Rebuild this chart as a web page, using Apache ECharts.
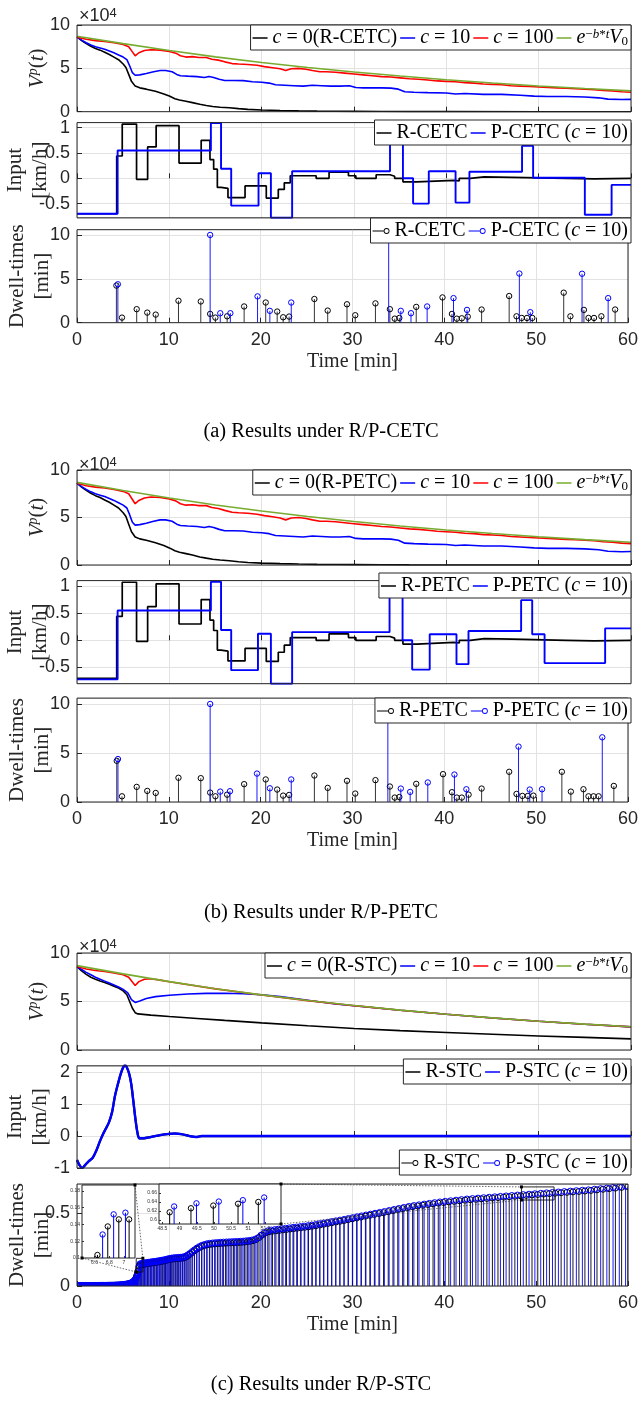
<!DOCTYPE html>
<html><head><meta charset="utf-8">
<script src="https://cdn.jsdelivr.net/npm/echarts@6.0.0/dist/echarts.min.js"></script>
<style>html,body{margin:0;padding:0;background:#fff;}#chart{width:641px;height:1410px;}</style>
</head><body><div id="chart"></div>
<script>
// ================= DATA =================
const T_TICKS = [0, 10, 20, 30, 40, 50, 60];
const CAPTIONS = ['(a) Results under R/P-CETC', '(b) Results under R/P-PETC', '(c) Results under R/P-STC'];

// V^p(t), units of 1e4 — (a) CETC and (b) PETC look identical
const V_ETC_R = [[0,8.65],[0.5,8.2],[1,7.85],[1.5,7.55],[2,7.3],[2.5,7.1],[3,6.85],[3.5,6.6],[4,6.3],[4.5,6.0],[5,5.5],[5.3,5.1],[5.6,4.3],[5.9,3.5],[6.3,2.95],[6.8,2.75],[7.5,2.6],[8.5,2.35],[9.4,2.05],[10,1.8],[10.6,1.5],[11.1,1.35],[11.8,1.2],[12.5,1.05],[13.3,0.85],[14,0.72],[14.7,0.6],[15.5,0.52],[16.5,0.45],[17.5,0.35],[18.5,0.27],[20,0.2],[22,0.14],[24,0.1],[26,0.07],[28,0.05],[30,0.04],[33,0.02],[36,0.01],[40,0.005],[50,0],[60,0]];
const V_ETC_C10 = [[0,8.6],[0.5,8.25],[1,7.95],[1.5,7.7],[2,7.5],[2.5,7.35],[3,7.2],[3.5,7.0],[4,6.8],[4.5,6.55],[5,6.3],[5.4,6.0],[5.7,5.3],[6.0,4.5],[6.3,4.2],[6.8,4.25],[7.5,4.4],[8.3,4.6],[9,4.75],[9.6,4.75],[10.3,4.6],[10.8,4.3],[11.2,4.15],[12,4.1],[13,4.05],[13.8,3.95],[14.3,4.05],[14.8,3.95],[15.4,3.75],[16,3.6],[17,3.6],[18,3.58],[19,3.45],[20,3.4],[20.8,3.3],[21.5,3.1],[22.5,3.05],[23.5,3.0],[24.5,2.95],[25.5,3.05],[26.5,3.0],[27.5,2.95],[28.5,2.95],[29.5,3.0],[30.2,2.8],[31,2.75],[32,2.75],[33,2.75],[34,2.72],[34.8,2.6],[35.5,2.3],[36.5,2.25],[38,2.2],[40,2.15],[41,2.05],[42,2.1],[44,2.0],[46,2.0],[48,1.9],[49.5,1.8],[51,1.75],[53,1.75],[55,1.7],[56.5,1.6],[57.5,1.45],[59,1.4],[60,1.42]];
const V_ETC_C100 = [[0,8.6],[1,8.35],[2,8.2],[3,8.1],[4,7.95],[5,7.75],[5.6,7.5],[6,6.9],[6.3,6.45],[6.7,6.8],[7.3,7.05],[8,7.15],[9,7.1],[10,6.95],[10.7,6.75],[11.2,6.45],[11.8,6.3],[12.5,6.35],[13.2,6.25],[14,6.25],[14.6,6.05],[15.3,5.95],[16,5.75],[16.8,5.55],[17.5,5.5],[18.5,5.45],[19.5,5.35],[20.3,5.2],[21,5.1],[22,4.95],[22.6,4.75],[23.2,4.95],[24,5.0],[24.8,4.9],[25.5,4.75],[26.3,4.6],[27,4.6],[28,4.55],[29,4.45],[30,4.35],[31,4.25],[32,4.15],[33,4.05],[34,4.0],[35,3.9],[36,3.8],[37,3.75],[38,3.65],[39,3.55],[40,3.5],[41,3.45],[42,3.35],[43,3.3],[44,3.2],[45,3.15],[46,3.1],[47,3.0],[48,2.95],[49,2.9],[50,2.85],[51,2.8],[52,2.75],[53,2.7],[54,2.65],[55,2.6],[56,2.55],[57,2.45],[58,2.4],[59,2.3],[60,2.25]];
const V_BOUND = [[0,8.7],[5,7.85],[10,7.05],[15,6.32],[20,5.68],[25,5.1],[30,4.58],[35,4.11],[40,3.69],[45,3.31],[50,2.97],[55,2.67],[60,2.4]];
// (c) STC
const V_STC_R = [[0,8.6],[0.5,8.15],[1,7.8],[1.5,7.5],[2,7.3],[2.5,7.12],[3,6.95],[3.5,6.78],[4,6.58],[4.5,6.38],[5,6.1],[5.4,5.7],[5.7,5.0],[6.0,4.3],[6.3,3.85],[6.6,3.72],[8,3.6],[10,3.45],[13,3.25],[16,3.05],[20,2.8],[25,2.5],[30,2.22],[35,2.0],[40,1.8],[45,1.62],[50,1.45],[55,1.3],[60,1.15]];
const V_STC_C10 = [[0,8.6],[0.5,8.3],[1,8.0],[1.5,7.75],[2,7.5],[2.5,7.3],[3,7.1],[3.5,6.9],[4,6.7],[4.5,6.5],[5,6.25],[5.5,5.9],[5.9,5.2],[6.3,4.9],[6.8,5.05],[7.5,5.3],[8.5,5.5],[10,5.65],[12,5.78],[14,5.84],[16,5.85],[18,5.8],[20,5.7],[22,5.5],[24,5.25],[26,5.0],[28,4.75],[30,4.56],[35,4.1],[40,3.68],[45,3.3],[50,2.96],[55,2.66],[60,2.38]];
const V_STC_C100 = [[0,8.6],[1,8.35],[2,8.2],[3,8.1],[4,7.95],[5,7.75],[5.6,7.5],[6,7.0],[6.3,6.65],[6.7,7.05],[7.3,7.3],[8,7.35],[9,7.2],[10,7.03],[15,6.3],[20,5.67],[25,5.09],[30,4.57],[35,4.1],[40,3.68],[45,3.3],[50,2.96],[55,2.66],[60,2.38]];

// Inputs [km/h], zero-order hold [t, value]
const IN_ETC_R = [[0,-0.70],[4.3,0.44],[4.9,1.07],[6.45,-0.02],[7.65,0.62],[8.57,1.04],[11.05,0.30],[13.45,0.75],[14.4,0.37],[14.8,0.18],[15.2,-0.18],[15.6,-0.2],[16.35,-0.38],[18.2,-0.15],[20.5,-0.39],[21.8,-0.22],[22.45,-0.09],[23.1,0.05],[25.9,0.0],[27.3,0.12],[29.4,0.05],[30.2,0.0],[32.4,0.07],[33.9,0.04],[34.4,0.0],[35.3,-0.07],[36.8,-0.04],[40.8,-0.05],[41.4,0.0],[42.6,0.03],[44.1,0.02],[47.1,0.0],[53.0,-0.01],[56.0,0.0],[60,0.0]];
const IN_CETC_P = [[0,-0.70],[4.4,0.55],[14.5,1.09],[15.6,0.19],[16.7,-0.54],[19.66,0.1],[21.0,-0.78],[23.3,0.14],[33.9,0.82],[35.3,0.0],[36.4,-0.5],[38.1,0.14],[41.0,-0.48],[42.5,0.13],[48.2,0.64],[49.4,0.01],[55.0,-0.72],[57.9,-0.13],[60,-0.13]];
const IN_PETC_P = [[0,-0.72],[4.4,0.55],[14.5,1.08],[15.6,0.19],[16.7,-0.55],[19.6,0.12],[21.0,-0.80],[23.3,0.15],[33.85,0.82],[35.26,0.0],[36.3,-0.54],[38.2,0.11],[41.1,-0.44],[42.4,0.17],[48.1,0.74],[49.3,0.11],[50.64,-0.42],[57.2,0.22],[60,0.22]];
const IN_STC = [[0,-0.75],[0.25,-0.9],[0.55,-1.0],[0.9,-0.9],[1.3,-0.78],[1.7,-0.68],[2.1,-0.45],[2.5,-0.15],[2.8,0.05],[3.1,0.22],[3.45,0.42],[3.8,0.75],[4.1,1.24],[4.45,1.65],[4.77,1.98],[5.0,2.15],[5.2,2.22],[5.4,2.15],[5.65,1.95],[5.88,1.62],[6.1,1.1],[6.32,0.55],[6.55,0.1],[6.76,-0.07],[7.2,-0.07],[8,-0.03],[9,0.03],[10,0.07],[10.6,0.08],[11.3,0.06],[12.2,0.0],[12.9,-0.03],[13.5,0.0],[15,0.0],[60,0.0]];

// Dwell-times [min] at event times [t, dwell]
const DW_CETC_R = [[4.29,4.23],[4.9,0.58],[6.5,1.54],[7.65,1.15],[8.57,0.92],[11.05,2.5],[13.48,2.42],[14.5,1.0],[15.07,0.58],[16.35,0.73],[18.2,1.85],[20.55,2.3],[21.8,1.27],[22.45,0.62],[23.1,0.7],[25.85,2.7],[27.3,1.38],[29.4,2.1],[30.3,0.85],[32.5,2.2],[34.07,1.54],[34.6,0.46],[35.1,0.54],[36.94,1.8],[39.8,2.88],[40.83,1.0],[41.36,0.46],[41.9,0.5],[42.55,0.69],[44.06,1.5],[47.06,3.04],[47.86,0.73],[48.43,0.54],[49.0,0.54],[49.58,0.54],[53.0,3.42],[53.73,0.73],[55.2,1.46],[55.7,0.54],[56.3,0.54],[57.1,0.73],[58.6,1.5]];
const DW_CETC_P = [[4.45,4.38],[14.5,10.0],[15.6,1.08],[16.7,1.08],[19.66,3.0],[21.0,1.35],[23.33,2.3],[33.94,10.5],[35.26,1.35],[36.37,1.08],[38.13,1.85],[41.0,2.8],[42.47,1.46],[48.17,5.6],[49.36,1.2],[55.0,5.58],[57.84,2.8]];
const DW_PETC_R = [[4.33,4.2],[4.9,0.58],[6.5,1.54],[7.65,1.13],[8.57,0.92],[11.05,2.47],[13.48,2.43],[14.5,0.96],[15.07,0.58],[16.35,0.75],[18.2,1.82],[20.55,2.3],[21.8,1.27],[22.45,0.65],[23.1,0.72],[25.85,2.7],[27.3,1.44],[29.4,2.16],[30.3,0.86],[32.5,2.23],[34.07,1.58],[34.6,0.45],[35.1,0.51],[36.94,1.85],[39.86,2.84],[40.83,1.0],[41.36,0.45],[41.9,0.45],[42.64,0.75],[44.06,1.37],[47.06,3.08],[47.86,0.82],[48.5,0.62],[49.1,0.62],[49.7,0.65],[52.8,3.08],[53.78,1.06],[55.15,1.3],[55.7,0.58],[56.25,0.58],[56.8,0.58],[58.46,1.64]];
const DW_PETC_P = [[4.46,4.38],[14.5,10.0],[15.6,1.06],[16.66,1.1],[19.6,2.9],[21.0,1.4],[23.33,2.3],[33.85,10.5],[35.26,1.37],[36.28,1.03],[38.2,1.99],[41.1,2.8],[42.4,1.3],[48.08,5.65],[49.3,1.27],[50.64,1.3],[57.2,6.6]];

// (c) STC dwell-times: early dense events [t, dwell], then successive dwell lengths
const DW_STC_P_EARLY = [[0.02,.003],[0.14,.003],[0.26,.003],[0.38,.003],[0.5,.003],[0.62,.003],[0.74,.003],[0.86,.003],[0.98,.003],[1.1,.003],[1.22,.003],[1.34,.003],[1.46,.003],[1.58,.003],[1.7,.003],[1.82,.003],[1.94,.004],[2.06,.004],[2.18,.004],[2.3,.004],[2.42,.004],[2.54,.004],[2.66,.004],[2.78,.004],[2.9,.004],[3.02,.004],[3.14,.004],[3.26,.005],[3.38,.005],[3.5,.005],[3.62,.005],[3.74,.005],[3.86,.005],[3.98,.005],[4.1,.006],[4.22,.006],[4.34,.006],[4.46,.007],[4.58,.007],[4.7,.008],[4.82,.008],[4.94,.009],[5.06,.01],[5.18,.011],[5.3,.012],[5.42,.013],[5.54,.015],[5.66,.017],[5.78,.019],[5.9,.022],[6.02,.026],[6.14,.031],[6.26,.038],[6.36,.047],[6.45,.058],[6.53,.072],[6.6,.09],[6.71,.128],[6.86,.152]];
const DW_STC_P_START = 7.02;
const DW_STC_P_SEQ = [.154,.156,.158,.160,.161,.163,.164,.166,.167,.169,.170,.172,.174,.176,.178,.180,.183,.186,.189,.191,.193,.194,.195,.196,.197,.198,.200,.206,.214,.224,.236,.248,.260,.270,.279,.285,.290,.293,.295,.297,.298,.300,.301,.302,.303,.304,.305,.306,.307,.308,.310,.312,.315,.320,.330,.348,.366,.378,.384,.387,.390,.393,.396,.399,.402,.405,.408,.411,.414,.418,.422,.427,.432,.437,.442,.447,.452,.457,.463,.469,.475,.481,.487,.493,.499,.505,.511,.518,.525,.532,.539,.546,.552,.557,.562,.567,.572,.577,.581,.585,.589,.593,.597,.600,.603,.606,.609,.612,.615,.618,.621,.624,.627,.630,.633,.636,.639,.642,.645,.648,.651,.654,.657,.660,.664,.668,.672,.676,.680,.685];
const DW_STC_R_EARLY = [[0.08,.003],[0.3,.003],[0.52,.003],[0.74,.003],[0.96,.003],[1.18,.003],[1.4,.003],[1.62,.003],[1.84,.003],[2.06,.004],[2.28,.004],[2.5,.004],[2.72,.004],[2.94,.004],[3.16,.004],[3.38,.005],[3.6,.005],[3.82,.005],[4.04,.005],[4.26,.006],[4.48,.006],[4.7,.007],[4.92,.008],[5.14,.01],[5.36,.012],[5.58,.014],[5.8,.018],[5.98,.023],[6.14,.03],[6.28,.04],[6.4,.052],[6.49,.066],[6.56,.08],[6.64,.104],[6.78,.138],[6.93,.146]];
const DW_STC_R_START = 7.07;
const DW_STC_R_SEQ = [.146,.148,.150,.152,.153,.155,.156,.158,.159,.161,.162,.164,.166,.168,.170,.172,.175,.178,.181,.183,.185,.186,.187,.188,.189,.190,.191,.194,.200,.208,.218,.229,.241,.253,.263,.271,.277,.282,.285,.287,.289,.290,.292,.293,.294,.295,.296,.297,.298,.299,.300,.302,.304,.307,.311,.318,.332,.350,.364,.372,.376,.379,.382,.385,.388,.391,.394,.397,.400,.403,.406,.410,.414,.419,.424,.429,.434,.439,.444,.449,.455,.461,.467,.473,.479,.485,.491,.497,.503,.510,.517,.524,.531,.538,.544,.549,.554,.559,.564,.569,.573,.577,.581,.585,.589,.592,.595,.598,.601,.604,.607,.610,.613,.616,.619,.622,.625,.628,.631,.634,.637,.640,.643,.646,.649,.652,.656,.660,.664,.668,.672,.677,.682];
// zoomed insets of (c)
const INSET1_R = [[6.64,.1036],[6.78,.1376],[6.93,.146],[7.07,.146]];
const INSET1_P = [[6.71,.128],[6.86,.152],[7.02,.154]];
const INSET2_R = [[48.71,.617],[49.33,.626],[49.98,.632],[50.70,.636],[51.29,.640]];
const INSET2_P = [[48.84,.630],[49.49,.637],[50.14,.641],[50.84,.644],[51.46,.650]];
const ZOOM1 = {t:[6.45,7.17], d:[0.096,0.19]};
const ZOOM2 = {t:[48.4,51.95], d:[0.59,0.68]};

// ================= STYLE / LAYOUT =================
const SERIF = "'Liberation Serif','Times New Roman',serif";
const SANS = "'Liberation Sans',Arial,sans-serif";
const AXC = '#262626', GRIDC = '#e2e2e2';
const BLK = '#000000', BLU = '#0000ff', RED = '#ff0000', GRN = '#77ac30';
const BOX = {left:77, width:554};
const LAYOUT = {
  aV:{top:25,h:86.7}, aIn:{top:122.6,h:95.2}, aDw:{top:229.7,h:93},
  bV:{top:470,h:95}, bIn:{top:580.6,h:103.1}, bDw:{top:698.1,h:103.9},
  cV:{top:953,h:97}, cIn:{top:1065.8,h:102.2}, cDw:{top:1184,h:102}
};

function buildStc(early, start, seq){
  const out = early.slice();
  let t = start;
  seq.forEach((d, i) => { if (i > 0) t += d; if (t <= 60) out.push([t, d]); });
  return out;
}
const DW_STC_P = buildStc(DW_STC_P_EARLY, DW_STC_P_START, DW_STC_P_SEQ);
const DW_STC_R = buildStc(DW_STC_R_EARLY, DW_STC_R_START, DW_STC_R_SEQ);

const grid = [], xAxis = [], yAxis = [], series = [], legend = [];
function panel(key, yopt, showX){
  const gi = grid.length, L = LAYOUT[key];
  grid.push({left:BOX.left, top:L.top, width:BOX.width, height:L.h, show:true, borderColor:AXC, borderWidth:1, backgroundColor:'transparent', z:3});
  xAxis.push({type:'value', gridIndex:gi, min:0, max:60, interval:10,
    axisLine:{show:false}, axisTick:{show:true, inside:true, length:5, lineStyle:{color:AXC}},
    axisLabel:{show:!!showX, margin:8, color:AXC, fontFamily:SANS, fontSize:18, formatter: v => T_TICKS.includes(v) ? String(v) : ''},
    splitLine:{show:true, lineStyle:{color:GRIDC, width:1}},
    name: showX ? 'Time [min]' : '', nameLocation:'middle', nameGap:29,
    nameTextStyle:{fontFamily:SERIF, fontSize:20, color:AXC}});
  const lab = Object.assign({color:AXC, fontFamily:SANS, fontSize:18, margin:7}, yopt.axisLabel || {});
  yAxis.push(Object.assign({type:'value', gridIndex:gi,
    axisLine:{show:false}, axisTick:{show:true, inside:true, length:5, lineStyle:{color:AXC}},
    splitLine:{show:true, lineStyle:{color:GRIDC, width:1}}}, yopt, {axisLabel:lab}));
  return gi;
}
function lineS(name, gi, data, color, w, extra){
  series.push(Object.assign({type:'line', name, xAxisIndex:gi, yAxisIndex:gi, data, symbol:'none', showSymbol:false,
    lineStyle:{color, width:w}, itemStyle:{color}, z:2, clip:true, silent:true, animation:false}, extra || {}));
}
function stemRender(color, r, lw){
  return function(params, api){
    const x = api.value(0), y = api.value(1);
    const p0 = api.coord([x, 0]), p1 = api.coord([x, y]);
    return {type:'group', children:[
      {type:'line', shape:{x1:p0[0], y1:p0[1], x2:p1[0], y2:p1[1]}, style:{stroke:color, lineWidth:lw}},
      {type:'circle', shape:{cx:p1[0], cy:p1[1], r:r}, style:{stroke:color, fill:'none', lineWidth:1}}
    ]};
  };
}
function stemS(name, gi, data, color, r, lw, z){
  series.push({type:'custom', name, xAxisIndex:gi, yAxisIndex:gi, data, itemStyle:{color}, clip:true, z:z || 2,
    silent:true, animation:false, renderItem: stemRender(color, r, lw)});
}

const VY = {min:0, max:10, interval:5};
const INY_A = {min:-0.78, max:1.1, splitNumber:4, axisLabel:{showMinLabel:false, showMaxLabel:false}};
const INY_B = {min:-0.8, max:1.1, splitNumber:4, axisLabel:{showMinLabel:false, showMaxLabel:false}};
const INY_C = {min:-1, max:2.2, interval:1, axisLabel:{showMaxLabel:false}};
const DWY = {min:0, max:10.6, interval:5, axisLabel:{showMaxLabel:false}};
const DWY_C = {min:0, max:0.7, interval:0.5, axisLabel:{showMaxLabel:false}};

const LBL = {};
function addSet(p, tag, V, IN_R, IN_P, DW_R, DW_P, yIn, stc){
  const gV = panel(p + 'V', VY, false);
  lineS(p+'V0', gV, V[0], BLK, 1.6);
  lineS(p+'V10', gV, V[1], BLU, 1.6);
  lineS(p+'V100', gV, V[2], RED, 1.6);
  lineS(p+'Ve', gV, V[3], GRN, 1.6);
  LBL[p+'V0'] = '{i|c} = 0(R-' + tag + ')';
  LBL[p+'V10'] = '{i|c} = 10';
  LBL[p+'V100'] = '{i|c} = 100';
  LBL[p+'Ve'] = '{i|e}{sup|\u2212}{supi|b}{sup|*}{supi|t}{i|V}{sub|0}';
  const gI = panel(p + 'In', yIn, false);
  if (stc) {
    lineS(p+'InR', gI, IN_R, BLK, 2.2, {smooth:0.3});
    lineS(p+'InP', gI, IN_P, BLU, 2.4, {smooth:0.3});
  } else {
    lineS(p+'InR', gI, IN_R, BLK, 1.7, {step:'end'});
    lineS(p+'InP', gI, IN_P, BLU, 1.9, {step:'end'});
  }
  LBL[p+'InR'] = 'R-' + tag; LBL[p+'InP'] = 'P-' + tag + ' ({i|c} = 10)';
  const gD = panel(p + 'Dw', stc ? DWY_C : DWY, true);
  const r = stc ? 3.0 : 2.7;
  stemS(p+'DwR', gD, DW_R, BLK, r, stc ? 0.9 : 0.8);
  stemS(p+'DwP', gD, DW_P, BLU, r, 0.9);
  LBL[p+'DwR'] = 'R-' + tag; LBL[p+'DwP'] = 'P-' + tag + ' ({i|c} = 10)';
  return {gV, gI, gD};
}
const A = addSet('a', 'CETC', [V_ETC_R, V_ETC_C10, V_ETC_C100, V_BOUND], IN_ETC_R, IN_CETC_P, DW_CETC_R, DW_CETC_P, INY_A, false);
const B = addSet('b', 'PETC', [V_ETC_R, V_ETC_C10, V_ETC_C100, V_BOUND], IN_ETC_R, IN_PETC_P, DW_PETC_R, DW_PETC_P, INY_B, false);
const C = addSet('c', 'STC', [V_STC_R, V_STC_C10, V_STC_C100, V_BOUND], IN_STC, IN_STC, DW_STC_R, DW_STC_P, INY_C, true);

// zoom rectangles in main (c) dwell axes
function rectData(z){ return [[z.t[0],z.d[0]],[z.t[1],z.d[0]],[z.t[1],z.d[1]],[z.t[0],z.d[1]],[z.t[0],z.d[0]]]; }
lineS('zoomBox1', C.gD, rectData(ZOOM1), '#111', 0.9, {z:6});
lineS('zoomBox2', C.gD, rectData(ZOOM2), '#111', 0.9, {z:6});

// insets
const INSETS = [
  {left:82, top:1185, width:53, height:73, x:[6.43,7.15], xs:3, y:[0.1,0.187], yi:0.02, R:INSET1_R, P:INSET1_P},
  {left:159, top:1184, width:122, height:40, x:[48.4,51.95], xs:7, y:[0.591,0.68], ys:4, R:INSET2_R, P:INSET2_P}
];
INSETS.forEach((s, k) => {
  const gi = grid.length;
  grid.push({left:s.left, top:s.top, width:s.width, height:s.height, show:true, borderColor:'#222', borderWidth:1, backgroundColor:'#ffffff', z:10});
  xAxis.push({type:'value', gridIndex:gi, min:s.x[0], max:s.x[1], splitNumber:s.xs, z:11,
    axisLine:{show:false}, axisTick:{inside:true, length:2, lineStyle:{color:'#333'}},
    axisLabel:{fontSize:5, color:'#333', margin:2, fontFamily:SANS, showMinLabel:false, showMaxLabel:false}, splitLine:{show:false}});
  const ya = {type:'value', gridIndex:gi, min:s.y[0], max:s.y[1], z:11,
    axisLine:{show:false}, axisTick:{inside:true, length:2, lineStyle:{color:'#333'}},
    axisLabel:{fontSize:5, color:'#333', margin:2, fontFamily:SANS, showMaxLabel:false}, splitLine:{show:false}};
  if (s.yi) ya.interval = s.yi; else { ya.splitNumber = s.ys; ya.axisLabel.showMinLabel = false; }
  yAxis.push(ya);
  stemS('inR' + k, gi, s.R, BLK, 2.7, 1, 12);
  stemS('inP' + k, gi, s.P, BLU, 2.7, 1, 12);
  s.gi = gi;
});

const RICH_L = {
  i:{fontStyle:'italic', fontFamily:SERIF, fontSize:20, color:'#000'},
  sup:{fontFamily:SERIF, fontSize:13, color:'#000', verticalAlign:'top', padding:[0,0,6,0]},
  supi:{fontFamily:SERIF, fontSize:13, fontStyle:'italic', color:'#000', verticalAlign:'top', padding:[0,0,6,0]},
  sub:{fontFamily:SERIF, fontSize:13, color:'#000', verticalAlign:'bottom', padding:[4,0,0,0]}
};
const LINE_ICON = 'path://M0,0L20,0L20,2L0,2Z';
const STEM_ICON = 'path://M0,9.3L19,9.3L19,10.7L0,10.7Z M29,10A5,5 0 1 1 19,10A5,5 0 1 1 29,10Z M27.6,10A3.6,3.6 0 1 0 20.4,10A3.6,3.6 0 1 0 27.6,10Z';
function mkLeg(top, data, extra){
  legend.push(Object.assign({show:true, orient:'horizontal', right:10, top:top, data:data,
    formatter: n => LBL[n], selectedMode:false, backgroundColor:'#ffffff', borderColor:AXC, borderWidth:1,
    padding:[3,3,2,2], itemGap:3, itemWidth:15, itemHeight:2, icon:LINE_ICON, z:20,
    textStyle:{fontFamily:SERIF, fontSize:20, color:'#000', rich:RICH_L}}, extra || {}));
}
const LEG_TOP = {a:[25,120,218], b:[470,573,698], c:[953,1059,1150]};
['a','b','c'].forEach(p => {
  mkLeg(LEG_TOP[p][0], [p+'V0', p+'V10', p+'V100', p+'Ve']);
  mkLeg(LEG_TOP[p][1], [p+'InR', p+'InP']);
  mkLeg(LEG_TOP[p][2], [{name:p+'DwR', icon:STEM_ICON}, {name:p+'DwP', icon:STEM_ICON}], {itemWidth:17, itemHeight:6, icon:null});
});

// ================= TEXT GRAPHICS =================
const RICH_G = {
  i:{fontStyle:'italic', fontFamily:SERIF, fontSize:21, fill:AXC},
  sup:{fontFamily:SERIF, fontSize:14, fontStyle:'italic', fill:AXC, verticalAlign:'top', padding:[0,0,7,0]},
  s4:{fontFamily:SANS, fontSize:13, fill:AXC, verticalAlign:'top', padding:[0,0,6,0]}
};
function ylab(id, x, y, text){
  return {type:'text', id, x, y, rotation:Math.PI/2, z:50,
    style:{text, fontFamily:SERIF, fontSize:21, fill:AXC, align:'center', verticalAlign:'middle', textAlign:'center', textVerticalAlign:'middle', rich:RICH_G}};
}
function mid(key){ return LAYOUT[key].top + LAYOUT[key].h / 2; }
const graphic = [];
const SETS = [['a', 10, 432], ['b', 459, 913], ['c', 941, 1385]];
SETS.forEach(([p, yx, yc], k) => {
  graphic.push(ylab(p+'lv', 37, mid(p+'V'), '{i|V}{sup|p}({i|t})'));
  graphic.push(ylab(p+'li1', 15, mid(p+'In'), 'Input'));
  graphic.push(ylab(p+'li2', 40, mid(p+'In'), '[km/h]'));
  graphic.push(ylab(p+'ld1', 17, mid(p+'Dw'), 'Dwell-times'));
  graphic.push(ylab(p+'ld2', 42, mid(p+'Dw'), '[min]'));
  graphic.push({type:'text', id:p+'exp', x:79, y:yx + 6, z:50,
    style:{text:'\u00d710{s4|4}', fontFamily:SANS, fontSize:18, fill:AXC, align:'left', verticalAlign:'middle', textAlign:'left', textVerticalAlign:'middle', rich:RICH_G}});
  graphic.push({type:'text', id:p+'cap', x:321, y:yc, z:50,
    style:{text:CAPTIONS[k], fontFamily:SERIF, fontSize:20.5, fill:'#000', align:'center', verticalAlign:'middle', textAlign:'center', textVerticalAlign:'middle'}});
});

const chart = echarts.init(document.getElementById('chart'), null, {renderer:'canvas'});
chart.setOption({animation:false, backgroundColor:'#ffffff', grid, xAxis, yAxis, series, legend, graphic});

// dotted connectors between insets and zoom boxes
const px = pt => chart.convertToPixel({gridIndex:C.gD}, pt);
const i1 = INSETS[0], i2 = INSETS[1];
const CONN = [
  [[i1.left + i1.width, i1.top], px([ZOOM1.t[1], ZOOM1.d[1]])],
  [[i1.left, i1.top + i1.height], px([ZOOM1.t[0], ZOOM1.d[0]])],
  [[i2.left + i2.width, i2.top], px([ZOOM2.t[0], ZOOM2.d[1]])],
  [[i2.left + i2.width, i2.top + i2.height], px([ZOOM2.t[0], ZOOM2.d[0]])]
];
CONN.forEach((c, k) => {
  graphic.push({type:'line', id:'conn'+k, z:30, shape:{x1:c[0][0], y1:c[0][1], x2:c[1][0], y2:c[1][1]},
    style:{stroke:'#444', lineWidth:0.8, lineDash:[1.5,1.5]}});
  c.forEach((q, j) => graphic.push({type:'rect', id:'cm'+k+'_'+j, z:31, shape:{x:q[0]-1.5, y:q[1]-1.5, width:3, height:3}, style:{fill:'#000'}}));
});
chart.setOption({graphic});
</script></body></html>
